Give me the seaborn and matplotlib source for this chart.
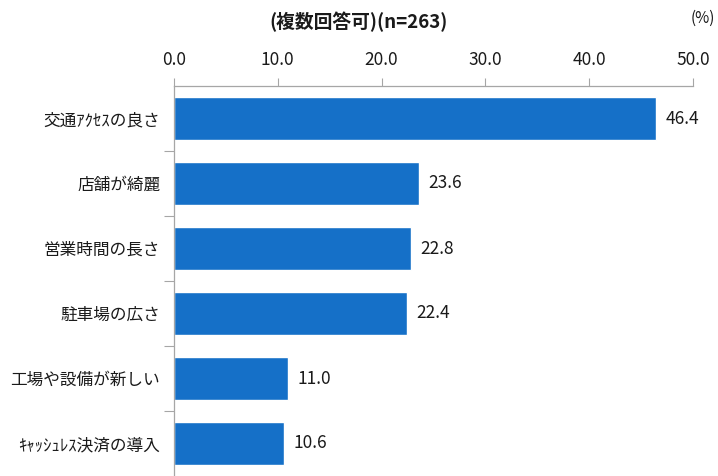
import matplotlib
matplotlib.use("Agg")
import matplotlib.pyplot as plt
import seaborn as sns
import pandas as pd
from matplotlib.ticker import FixedLocator

categories = ["交通ｱｸｾｽの良さ", "店舗が綺麗", "営業時間の長さ", "駐車場の広さ",
              "工場や設備が新しい", "ｷｬｯｼｭﾚｽ決済の導入"]
values = [46.4, 23.6, 22.8, 22.4, 11.0, 10.6]
x_ticks = [0, 10, 20, 30, 40, 50]
title = "(複数回答可)(n=263)"
unit = "(%)"

sns.set_theme(style="white")
plt.rcParams["font.family"] = ["Noto Sans CJK JP", "DejaVu Sans"]

df = pd.DataFrame({"item": categories, "pct": values})

fig = plt.figure(figsize=(7.18, 4.76), dpi=100)
ax = fig.add_axes([174 / 718, 0.0, (693 - 174) / 718, 1 - 86 / 476])

sns.barplot(data=df, y="item", x="pct", orient="h", color="#1570c8",
            saturation=1, width=0.66, ax=ax)

ax.set_xlim(0, 50)
ax.set_ylim(5.5, -0.5)
ax.set_xlabel("")
ax.set_ylabel("")

# value axis along the top
ax.xaxis.tick_top()
ax.set_xticks(x_ticks)
ax.set_xticklabels([f"{t:.1f}" for t in x_ticks], fontsize=12.5, color="#1a1a1a")
ax.tick_params(axis="x", which="major", direction="out", length=6, width=0.8,
               color="#a6a6a6", pad=6, top=True, bottom=False)

# category axis with separator ticks between rows
ax.set_yticks(range(len(categories)))
ax.set_yticklabels(categories, fontsize=12, color="#1a1a1a")
ax.tick_params(axis="y", which="major", length=0, pad=10)
ax.yaxis.set_minor_locator(FixedLocator([i + 0.5 for i in range(len(categories) - 1)]))
ax.tick_params(axis="y", which="minor", direction="out", length=7, width=0.8,
               color="#a6a6a6", left=True)

for side in ["right", "bottom"]:
    ax.spines[side].set_visible(False)
for side in ["top", "left"]:
    ax.spines[side].set_visible(True)
    ax.spines[side].set_color("#a6a6a6")
    ax.spines[side].set_linewidth(0.9)

for i, v in enumerate(values):
    ax.annotate(f"{v:.1f}", xy=(v, i), xytext=(7, 0), textcoords="offset points",
                ha="left", va="center", fontsize=12.5, color="#1a1a1a")

fig.text(0.499, 1 - 22 / 476, title, ha="center", va="center",
         fontsize=13.5, fontweight="bold", color="#1a1a1a")
fig.text(703 / 718, 1 - 18 / 476, unit, ha="center", va="center",
         fontsize=11, color="#1a1a1a")

fig.savefig("out.png", dpi=100)
